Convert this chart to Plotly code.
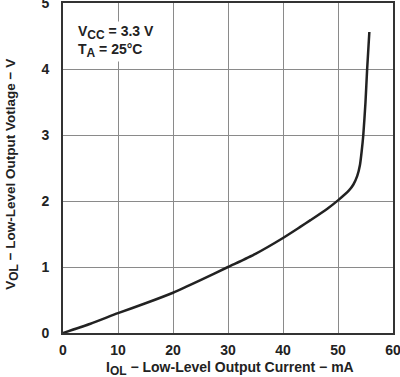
import plotly.graph_objects as go

current_ma = [0, 5, 10, 15, 20, 25, 30, 35, 40, 43, 45, 48, 50, 52, 52.8, 53.5, 54, 54.3, 54.6, 55, 55.3, 55.7]
vol_v = [0, 0.14, 0.30, 0.45, 0.61, 0.80, 1.0, 1.2, 1.44, 1.6, 1.71, 1.88, 2.01, 2.16, 2.25, 2.38, 2.55, 2.75, 3.0, 3.5, 4.0, 4.56]
x_ticks = [0, 10, 20, 30, 40, 50, 60]
y_ticks = [0, 1, 2, 3, 4, 5]

font = "Liberation Sans, Arial, sans-serif"
SUB = '<sub><span style="font-size:12px">{}</span></sub>'

fig = go.Figure()
fig.add_trace(go.Scatter(x=current_ma, y=vol_v, mode="lines",
                         line=dict(color="#222222", width=2.5, shape="spline", smoothing=0.6),
                         showlegend=False, hoverinfo="skip"))

fig.update_layout(
    width=400, height=377,
    margin=dict(l=63, r=7, t=3, b=44, autoexpand=False),
    paper_bgcolor="white", plot_bgcolor="white",
    font=dict(family=font, size=13, color="#222222"),
    xaxis=dict(range=[0, 60.0001], tickvals=x_ticks, ticktext=[f"<b>{v}</b>" for v in x_ticks],
               showgrid=True, gridcolor="#8a8a8a", gridwidth=1,
               showline=True, linecolor="#333333", linewidth=2, mirror=True,
               zeroline=False, ticks="", ticklen=0, automargin=False,
               ticklabeloverflow="allow", ticklabelstandoff=3,
               tickfont=dict(size=14, family=font)),
    yaxis=dict(range=[0, 5.0001], tickvals=y_ticks, ticktext=[f"<b>{v}</b>" for v in y_ticks],
               showgrid=True, gridcolor="#8a8a8a", gridwidth=1,
               showline=True, linecolor="#333333", linewidth=2, mirror=True,
               zeroline=False, ticks="", ticklen=0, automargin=False,
               ticklabeloverflow="allow", ticklabelstandoff=9,
               tickfont=dict(size=14, family=font)),
)

fig.add_annotation(xref="paper", yref="paper", x=0.04, y=0.945, xanchor="left", yanchor="top",
                   align="left", showarrow=False, bgcolor="white",
                   text="<b>V" + SUB.format("CC") + " = 3.3 V<br>T" + SUB.format("A") + " = 25°C</b>",
                   font=dict(size=14, family=font, color="#222222"))

# axis titles
fig.add_annotation(xref="paper", yref="paper", x=0.505, y=-0.108, xanchor="center", yanchor="middle",
                   showarrow=False,
                   text="<b>I" + SUB.format("OL") + " − Low-Level Output Current − mA</b>",
                   font=dict(size=14, family=font, color="#222222"))
fig.add_annotation(xref="paper", yref="paper", x=-0.155, y=0.482, xanchor="center", yanchor="middle",
                   showarrow=False, textangle=-90,
                   text="<b>V" + SUB.format("OL") + " − Low-Level Output Votlage − V</b>",
                   font=dict(size=13.5, family=font, color="#222222"))

fig.write_html("out.html", config={"displayModeBar": False},
               post_script="document.body.style.margin='0';document.body.style.padding='0';")
